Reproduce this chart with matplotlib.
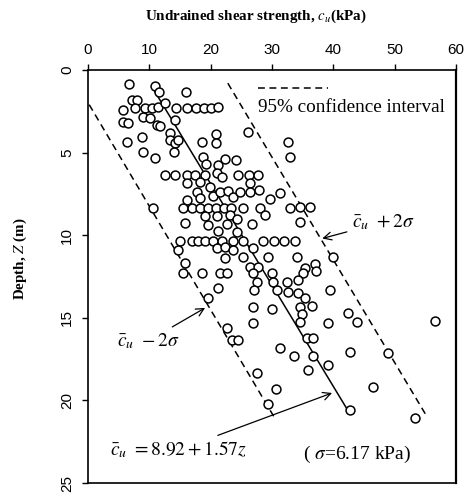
import numpy as np
import matplotlib
matplotlib.use("Agg")
from matplotlib import pyplot as plt

plt.rcParams['mathtext.fontset'] = 'stix'
plt.rcParams['font.family'] = ['Liberation Sans', 'DejaVu Sans']

# measured points: undrained shear strength cu (kPa) vs depth z (m)
cu = [6.7, 10.9, 11.6, 16.0, 7.2, 8.0,
      5.7, 7.7, 9.3, 10.4, 11.4, 12.6, 14.4, 16.2, 17.6, 18.9, 20.1, 21.2,
      5.7, 6.5, 9.0, 10.1, 11.3, 11.7, 14.2, 26.1,
      13.4, 13.4, 14.2, 14.7, 8.8, 6.4, 18.6, 20.9, 20.9, 32.6,
      9.0, 10.9, 14.0, 18.8, 19.2, 33.0, 21.2, 22.3, 24.1,
      12.6, 14.2, 16.2, 17.5, 19.1, 21.0, 21.9, 24.5, 26.3, 27.7, 16.2, 18.3, 26.4,
      17.8, 19.9, 20.4, 21.5, 22.8, 23.7, 24.8, 26.4, 27.9, 29.7, 31.3, 16.2, 18.3,
      10.6, 15.5, 17.0, 18.3, 19.6, 20.9, 22.2, 23.3, 25.3, 28.1, 28.9, 33.0, 34.6, 36.2,
      19.1, 21.0, 23.2, 24.3,
      15.8, 19.6, 22.7, 26.8, 34.6, 21.2, 24.3,
      15.0, 17.0, 17.9, 19.1, 20.4, 21.9, 23.7, 25.3, 28.5, 30.3, 32.0, 33.8,
      14.7, 21.0, 22.3, 23.7,
      22.3, 25.3, 26.9, 29.4, 34.1, 40.0, 37.0, 37.2, 35.4, 26.4, 27.7, 15.8,
      15.5, 18.6, 21.5, 22.7, 26.9, 30.0, 35.1,
      27.6, 27.1, 30.2, 32.5, 34.3, 30.8, 32.6, 34.3, 35.4, 39.5, 21.2, 19.6,
      26.9, 30.0, 26.9, 34.6, 36.5, 34.9, 34.6, 39.2, 42.4, 43.9, 56.6, 22.7,
      23.5, 24.5, 31.3, 33.6, 35.7, 36.7, 36.7, 35.9, 39.2, 42.7, 48.9, 27.6,
      30.7, 46.5, 29.4, 42.7, 53.3]
depth = [0.85, 0.97, 1.33, 1.33, 1.82, 1.82,
         2.42, 2.30, 2.30, 2.30, 2.24, 2.00, 2.30, 2.30, 2.30, 2.30, 2.30, 2.24,
         3.15, 3.21, 2.85, 2.91, 3.33, 3.39, 3.03, 3.75,
         3.81, 4.24, 4.42, 4.24, 4.06, 4.36, 4.36, 3.87, 4.42, 4.36,
         4.96, 5.33, 4.96, 5.27, 5.69, 5.27, 5.75, 5.39, 5.45,
         6.36, 6.36, 6.36, 6.36, 6.36, 6.23, 6.48, 6.36, 6.36, 6.36, 6.84, 6.78, 6.84,
         7.38, 7.08, 7.63, 7.38, 7.32, 7.69, 7.38, 7.38, 7.26, 7.81, 7.45, 7.87, 7.75,
         8.35, 8.35, 8.35, 8.35, 8.35, 8.35, 8.35, 8.35, 8.35, 8.35, 8.78, 8.35, 8.29, 8.29,
         8.84, 8.84, 8.78, 9.02,
         9.26, 9.38, 9.32, 9.32, 9.20, 9.75, 9.81,
         10.35, 10.35, 10.35, 10.35, 10.35, 10.35, 10.35, 10.35, 10.35, 10.35, 10.35, 10.35,
         10.90, 10.77, 10.71, 10.90,
         11.38, 11.32, 10.77, 11.32, 11.32, 11.32, 11.74, 12.17, 11.99, 11.92, 11.92, 11.68,
         12.29, 12.29, 12.29, 12.29, 12.29, 12.29, 12.29,
         12.83, 13.32, 12.83, 12.83, 12.71, 13.32, 13.44, 13.50, 13.80, 13.32, 13.20, 13.80,
         14.35, 14.47, 15.31, 14.35, 14.29, 14.77, 15.25, 15.31, 14.71, 15.25, 15.19, 15.62,
         16.34, 16.34, 16.83, 17.31, 16.22, 16.22, 17.31, 18.16, 17.86, 17.07, 17.13, 18.34,
         19.31, 19.19, 20.22, 20.58, 21.07]

# regression line and 95% bounds (end points as drawn)
mean_z = [1.0, 20.5]
mean_cu = [10.4, 42.2]
upper_z = [0.8, 21.0]
upper_cu = [22.8, 55.3]
lower_z = [2.1, 21.1]
lower_cu = [0.2, 30.5]

x_ticks = [0, 10, 20, 30, 40, 50, 60]
y_ticks = [0, 5, 10, 15, 20, 25]

serif = ['Liberation Serif', 'DejaVu Serif']

fig = plt.figure(figsize=(4.69, 4.96), dpi=100)
ax = fig.add_axes([0.1876, 0.0262, 0.7846, 0.8327])

ax.plot(cu, depth, 'o', mfc='white', mec='black', mew=1.1, ms=6.4, zorder=3)
ax.plot(mean_cu, mean_z, '-', color='black', lw=1.1, zorder=2)
ax.plot(upper_cu, upper_z, color='black', lw=1.1, dashes=(4.5, 3), zorder=2)
ax.plot(lower_cu, lower_z, color='black', lw=1.1, dashes=(4.5, 3), zorder=2)

ax.set_xlim(0, 60)
ax.set_ylim(25, 0)
ax.xaxis.tick_top()
ax.set_xticks(x_ticks)
ax.set_yticks(y_ticks)
ax.tick_params(axis='x', direction='out', length=4, width=1, pad=5, labelsize=11)
ax.tick_params(axis='y', direction='out', length=4, width=1, pad=6, labelsize=11, labelrotation=90)
for lab in ax.get_yticklabels():
    lab.set_va('center')
for sp in ax.spines.values():
    sp.set_linewidth(1.2)
ax.spines['right'].set_linewidth(1.6)

# legend sample
ax.plot([0.462, 0.652], [0.956, 0.956], transform=ax.transAxes, color='black',
        lw=1.1, dashes=(4.5, 3), clip_on=False)
ax.text(0.462, 0.908, '95% confidence interval', transform=ax.transAxes,
        family=serif, fontsize=13.8, ha='left', va='center')

ax.annotate(r'$\bar{c}_u\ +2\sigma$', xy=(38.2, 10.2), xytext=(43.1, 9.2),
            fontsize=14, ha='left', va='center',
            arrowprops=dict(arrowstyle='->', color='black', lw=0.9, shrinkA=2, shrinkB=0))
ax.annotate(r'$\bar{c}_u\ -2\sigma$', xy=(19.1, 14.4), xytext=(4.7, 16.4),
            fontsize=14, ha='left', va='center',
            arrowprops=dict(arrowstyle='->', color='black', lw=0.9, shrinkA=2, shrinkB=0))
ax.annotate(r'$\bar{c}_u\ = 8.92+1.57z$', xy=(39.8, 19.55), xytext=(3.6, 23.0),
            fontsize=14, ha='left', va='center',
            arrowprops=dict(arrowstyle='->', color='black', lw=0.9, shrinkA=3, shrinkB=0))
ax.text(35.1, 23.3, r'( $\sigma$=6.17 kPa)', family=serif, fontsize=14,
        ha='left', va='center')

fig.text(0.546, 0.968, r'Undrained shear strength, $c_u$(kPa)', family=serif,
         fontweight='bold', fontsize=10.8, ha='center', va='center')
fig.text(0.043, 0.478, r'Depth, $Z$ (m)', family=serif, fontweight='bold',
         fontsize=10.8, rotation=90, ha='center', va='center')

fig.savefig('out.png', dpi=100)
